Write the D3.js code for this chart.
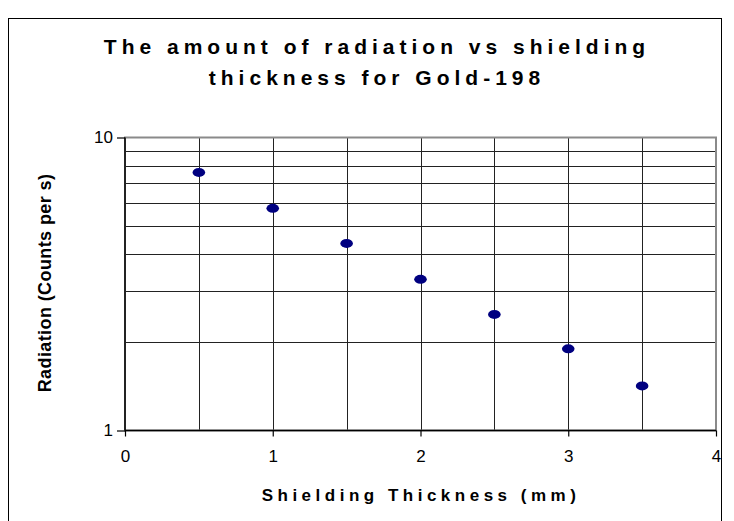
<!DOCTYPE html>
<html lang="en">
  <head>
    <meta charset="utf-8" />
    <title>Radiation vs shielding</title>
    <script src="https://d3js.org/d3.v7.min.js"></script>
    <style type="text/css">
      body {
        margin: 0;
        background: #fff;
      }
      text {
        font-family: Arial, 'Liberation Sans', sans-serif;
        fill: #000;
      }
    </style>
  </head>
  <body>
    <script type="text/javascript">
      // Data
      const thickness = [0.5, 1, 1.5, 2, 2.5, 3, 3.5];
      const radiation = [7.6, 5.73, 4.35, 3.28, 2.49, 1.9, 1.42];
      const xTicks = [0, 1, 2, 3, 4];
      const yTicks = [1, 10];
      const yGrid = [2, 3, 4, 5, 6, 7, 8, 9];
      const xGrid = [0.5, 1, 1.5, 2, 2.5, 3, 3.5];
      const titleLines = ['The amount of radiation vs shielding', 'thickness for Gold-198'];

      const w = 734;
      const h = 521;
      const plotLeft = 125;
      const plotRight = 716;
      const plotTop = 137.5;
      const plotBottom = 430.5;

      const xScale = d3.scaleLinear().domain([0, 4]).range([plotLeft, plotRight]);
      const yScale = d3.scaleLog().domain([1, 10]).range([plotBottom, plotTop]);

      const svg = d3
        .select('body')
        .append('svg')
        .attr('width', w)
        .attr('height', h);

      // outer chart frame
      svg
        .append('rect')
        .attr('x', 8.5)
        .attr('y', 18.5)
        .attr('width', 713)
        .attr('height', 540)
        .attr('fill', 'none')
        .attr('stroke', '#000')
        .attr('stroke-width', 1);

      // Title
      svg
        .append('text')
        .attr('text-anchor', 'middle')
        .style('font-size', '21px')
        .style('font-weight', 'bold')
        .style('letter-spacing', '5px')
        .selectAll('tspan')
        .data(titleLines)
        .enter()
        .append('tspan')
        .attr('x', 377)
        .attr('y', (d, i) => 54 + i * 31)
        .text(d => d);

      // gridlines
      svg
        .append('g')
        .selectAll('line')
        .data(yGrid)
        .enter()
        .append('line')
        .attr('x1', plotLeft)
        .attr('x2', plotRight)
        .attr('y1', d => Math.round(yScale(d)) + 0.5)
        .attr('y2', d => Math.round(yScale(d)) + 0.5)
        .attr('stroke', '#222')
        .attr('stroke-width', 1);

      svg
        .append('g')
        .selectAll('line')
        .data(xGrid)
        .enter()
        .append('line')
        .attr('x1', d => Math.round(xScale(d)) + 0.5)
        .attr('x2', d => Math.round(xScale(d)) + 0.5)
        .attr('y1', plotTop)
        .attr('y2', plotBottom)
        .attr('stroke', '#222')
        .attr('stroke-width', 1);

      // plot area border (grey, like excel)
      svg
        .append('rect')
        .attr('x', plotLeft)
        .attr('y', plotTop)
        .attr('width', plotRight - plotLeft)
        .attr('height', plotBottom - plotTop)
        .attr('fill', 'none')
        .attr('stroke', '#8a8a8a')
        .attr('stroke-width', 2);

      // Axis
      const xAxis = d3
        .axisBottom(xScale)
        .tickValues(xTicks)
        .tickSize(6)
        .tickPadding(13)
        .tickFormat(d3.format('d'));
      const yAxis = d3
        .axisLeft(yScale)
        .tickValues(yTicks)
        .tickSize(8)
        .tickPadding(4)
        .tickFormat(d3.format('d'));

      const gx = svg
        .append('g')
        .attr('transform', `translate(0, ${plotBottom})`)
        .call(xAxis);
      const gy = svg
        .append('g')
        .attr('transform', `translate(${plotLeft},0)`)
        .call(yAxis);

      [gx, gy].forEach(g => {
        g.select('.domain').attr('stroke', '#000').attr('stroke-width', 1.5);
        g.selectAll('.tick line').attr('stroke', '#000').attr('stroke-width', 1.2);
        g.selectAll('text')
          .style('font-family', 'Arial, "Liberation Sans", sans-serif')
          .style('font-size', '17px')
          .attr('fill', '#000');
      });
      gx.select('.domain').attr('d', `M${plotLeft},0H${plotRight}`);
      gy.select('.domain').attr('d', `M0,${plotBottom}V${plotTop}`);

      // the points
      svg
        .append('g')
        .selectAll('ellipse')
        .data(thickness)
        .enter()
        .append('ellipse')
        .attr('cx', d => xScale(d))
        .attr('cy', (d, i) => yScale(radiation[i]))
        .attr('rx', 6.3)
        .attr('ry', 4.5)
        .attr('fill', '#000080');

      // Axis names!
      svg
        .append('text')
        .attr('transform', 'rotate(-90)')
        .attr('x', -283)
        .attr('y', 51)
        .style('text-anchor', 'middle')
        .style('font-size', '18px')
        .style('font-weight', 'bold')
        .style('letter-spacing', '0.4px')
        .text('Radiation (Counts per s)');

      svg
        .append('text')
        .attr('x', 421)
        .attr('y', 501)
        .style('text-anchor', 'middle')
        .style('font-size', '17px')
        .style('font-weight', 'bold')
        .style('letter-spacing', '4.5px')
        .text('Shielding Thickness (mm)');
    </script>
  </body>
</html>
